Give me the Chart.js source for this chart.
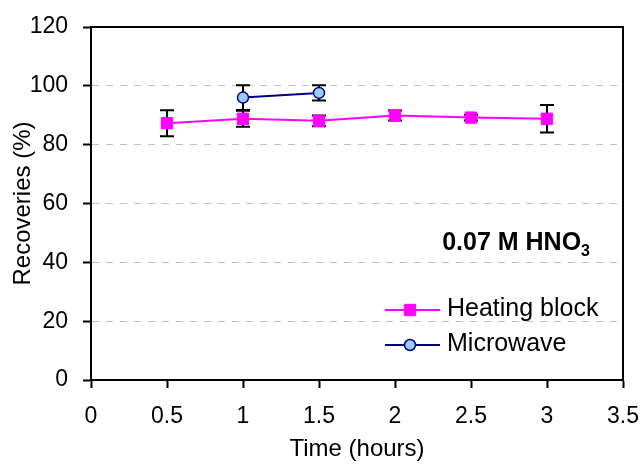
<!DOCTYPE html>
<html>
<head>
<meta charset="utf-8">
<script src="https://cdn.jsdelivr.net/npm/chart.js@4"></script>
<style>
  html, body { margin: 0; padding: 0; background: #fff; }
  #wrap { width: 642px; height: 464px; }
</style>
</head>
<body>
<div id="wrap"><canvas id="chart" width="642" height="464"></canvas></div>
<script>
// values
const times = [0.5, 1, 1.5, 2, 2.5, 3];
const heating = [87.3, 88.8, 88.1, 89.9, 89.2, 88.8];
const heatingErr = [4.4, 2.7, 1.8, 1.7, 1.0, 4.7];
const microTimes = [1, 1.5];
const microwave = [96.0, 97.6];
const microErr = [4.2, 2.6];
const xTicks = [0, 0.5, 1, 1.5, 2, 2.5, 3, 3.5];
const yTicks = [0, 20, 40, 60, 80, 100, 120];

const FONT = 'Liberation Sans, Arial, sans-serif';

// error bars, drawn under the markers
const errorBars = {
  id: 'errorBars',
  beforeDatasetsDraw(chart) {
    const ctx = chart.ctx;
    const ys = chart.scales.y;
    ctx.save();
    ctx.strokeStyle = '#000';
    ctx.lineWidth = 2;
    chart.data.datasets.forEach((ds, i) => {
      const meta = chart.getDatasetMeta(i);
      meta.data.forEach((pt, j) => {
        const v = ds.data[j].y;
        const e = ds.errors[j];
        const top = ys.getPixelForValue(v + e);
        const bot = ys.getPixelForValue(v - e);
        ctx.beginPath();
        ctx.moveTo(pt.x, top); ctx.lineTo(pt.x, bot);
        ctx.moveTo(pt.x - 7, top); ctx.lineTo(pt.x + 7, top);
        ctx.moveTo(pt.x - 7, bot); ctx.lineTo(pt.x + 7, bot);
        ctx.stroke();
      });
    });
    ctx.restore();
  }
};

// plot frame, legend and label inside the plot
const extras = {
  id: 'extras',
  afterDraw(chart) {
    const ctx = chart.ctx;
    const a = chart.chartArea;
    ctx.save();
    ctx.strokeStyle = '#000';
    ctx.lineWidth = 2;
    ctx.strokeRect(a.left, a.top, a.right - a.left, a.bottom - a.top);

    // label
    ctx.fillStyle = '#000';
    ctx.textBaseline = 'alphabetic';
    ctx.textAlign = 'left';
    const main = '0.07 M HNO';
    ctx.font = 'bold 16px ' + FONT;
    const subW = ctx.measureText('3').width;
    ctx.font = 'bold 25px ' + FONT;
    const mainW = ctx.measureText(main).width;
    const rx = a.right - 33;
    ctx.fillText(main, rx - subW - mainW, 250);
    ctx.font = 'bold 16px ' + FONT;
    ctx.fillText('3', rx - subW, 256);

    // legend
    const lx = a.right - 238;
    const rows = [310, 345];
    chart.data.datasets.forEach((ds, i) => {
      const y = rows[i];
      ctx.strokeStyle = ds.borderColor;
      ctx.lineWidth = 2;
      ctx.beginPath();
      ctx.moveTo(lx, y); ctx.lineTo(lx + 55, y);
      ctx.stroke();
      ctx.fillStyle = ds.pointBackgroundColor;
      ctx.strokeStyle = ds.pointBorderColor;
      ctx.lineWidth = ds.pointBorderWidth;
      ctx.beginPath();
      if (ds.pointStyle === 'rect') {
        const s = Math.SQRT1_2 * ds.pointRadius;
        ctx.rect(lx + 25 - s, y - s, 2 * s, 2 * s);
      } else {
        ctx.arc(lx + 25, y, ds.pointRadius, 0, Math.PI * 2);
      }
      ctx.fill();
      ctx.stroke();
      ctx.fillStyle = '#000';
      ctx.font = '25px ' + FONT;
      ctx.textBaseline = 'middle';
      ctx.fillText(ds.label, lx + 62, y - 1);
    });
    ctx.restore();
  }
};

new Chart(document.getElementById('chart'), {
  type: 'line',
  data: {
    datasets: [
      {
        label: 'Heating block',
        data: times.map((t, i) => ({ x: t, y: heating[i] })),
        errors: heatingErr,
        borderColor: '#FF00FF',
        borderWidth: 2,
        pointStyle: 'rect',
        pointRadius: 8,
        pointBackgroundColor: '#FF00FF',
        pointBorderColor: '#FF00FF',
        pointBorderWidth: 1,
        tension: 0
      },
      {
        label: 'Microwave',
        data: microTimes.map((t, i) => ({ x: t, y: microwave[i] })),
        errors: microErr,
        borderColor: '#000080',
        borderWidth: 2,
        pointStyle: 'circle',
        pointRadius: 5.5,
        pointBackgroundColor: '#99CCFF',
        pointBorderColor: '#000080',
        pointBorderWidth: 1.5,
        tension: 0
      }
    ]
  },
  options: {
    responsive: false,
    animation: false,
    layout: { padding: { top: 27, right: 19, left: 0, bottom: 0 } },
    plugins: { legend: { display: false }, tooltip: { enabled: false } },
    scales: {
      x: {
        type: 'linear',
        min: 0, max: 3.5,
        afterBuildTicks: ax => { ax.ticks = xTicks.map(v => ({ value: v })); },
        afterFit: ax => { ax.height = 84; ax.paddingLeft = 0; ax.paddingRight = 0; },
        ticks: { color: '#000', font: { family: FONT, size: 23 }, padding: 15, maxRotation: 0, callback: v => String(v) },
        grid: { drawOnChartArea: false, tickLength: 8, tickColor: '#000', tickWidth: 2 },
        border: { color: '#000', width: 2 },
        title: { display: true, text: 'Time (hours)', color: '#000', font: { family: FONT, size: 24 }, padding: { top: 4, bottom: 0 } }
      },
      y: {
        min: 0, max: 120,
        afterBuildTicks: ax => { ax.ticks = yTicks.map(v => ({ value: v })); },
        afterFit: ax => { ax.width = 91; ax.paddingTop = 0; ax.paddingBottom = 0; },
        ticks: { color: '#000', font: { family: FONT, size: 23 }, padding: 15, callback: v => String(v) },
        grid: {
          color: c => (c.tick.value === 0 || c.tick.value === 120) ? 'rgba(0,0,0,0)' : '#c0c0c0',
          lineWidth: 1,
          tickLength: 8, tickColor: '#000', tickWidth: 2
        },
        border: { color: '#000', width: 2, dash: [7, 7] },
        title: { display: true, text: 'Recoveries (%)', color: '#000', font: { family: FONT, size: 24 }, padding: { top: 9, bottom: 0 } }
      }
    }
  },
  plugins: [errorBars, extras]
});
</script>
</body>
</html>
